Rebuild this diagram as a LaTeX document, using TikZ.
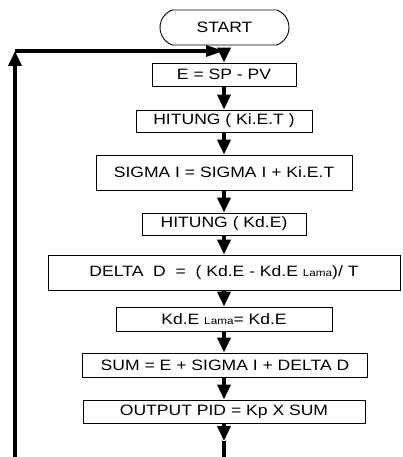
\documentclass[tikz,border=0pt]{standalone}
\usepackage{fontspec}
\setmainfont{Liberation Sans}[FakeStretch=1.17]
\usetikzlibrary{arrows.meta,shapes.misc}
\newcommand{\lamatag}{{\fontsize{10}{10}\selectfont Lama}}
\begin{document}
\begin{tikzpicture}[x=1pt,y=-1pt,
  box/.style={draw, line width=0.9pt, inner sep=0pt, font=\fontsize{15}{15}\selectfont},
  terminal/.style={box, rounded rectangle, rounded rectangle arc length=140},
  flow/.style={line width=3.6pt, -{Triangle[length=15pt,width=13pt]}},
  flowh/.style={line width=3.2pt, -{Triangle[length=18pt,width=11pt]}},
  wire/.style={line width=3.6pt}]
\useasboundingbox (0,0) rectangle (402,457);

% terminal and process boxes
\node[terminal, minimum width=129pt, minimum height=35pt] (start) at (224.5,27.5) {START};
\node[box, minimum width=144pt, minimum height=23pt] (e) at (224,74.5) {E = SP - PV};
\node[box, minimum width=176pt, minimum height=22pt] (hki) at (224,121) {HITUNG ( Ki.E.T )};
\node[box, minimum width=256pt, minimum height=35pt] (sigma) at (224,172.5) {SIGMA I = SIGMA I + Ki.E.T};
\node[box, minimum width=164pt, minimum height=22pt] (hkd) at (224,224) {HITUNG ( Kd.E)};
\node[box, minimum width=352pt, minimum height=35pt] (delta) at (224,272.5) {DELTA\ \ D\ \ =\ \ ( Kd.E - Kd.E \lamatag)/ T};
\node[box, minimum width=216pt, minimum height=24pt] (lama) at (224,319) {Kd.E \lamatag= Kd.E};
\node[box, minimum width=285pt, minimum height=24pt] (sum) at (225,365) {SUM = E + SIGMA I + DELTA D};
\node[box, minimum width=282pt, minimum height=23pt] (out) at (224,411.5) {OUTPUT PID = Kp X SUM};

% loop-back path
\coordinate (lb) at (15,457);
\coordinate (lt) at (15,51);
\coordinate (jn) at (224,51);
\coordinate (bm) at (224,441);
\coordinate (bt) at (224,457);

\draw[flow] (lb) -- (lt);
\draw[flowh] (lt) -- (jn);
\draw[flow] (jn) -- (e.north);

% main flow
\draw[flow] (e.south) -- (hki.north);
\draw[flow] (hki.south) -- (sigma.north);
\draw[flow] (sigma.south) -- (hkd.north);
\draw[flow] (hkd.south) -- (delta.north);
\draw[flow] (delta.south) -- (lama.north);
\draw[flow] (lama.south) -- (sum.north -| lama.south);
\draw[flow] (sum.south -| out.north) -- (out.north);
\draw[flow] (out.south) -- (bm);
\draw[wire] (bm) -- (bt);
\end{tikzpicture}
\end{document}
